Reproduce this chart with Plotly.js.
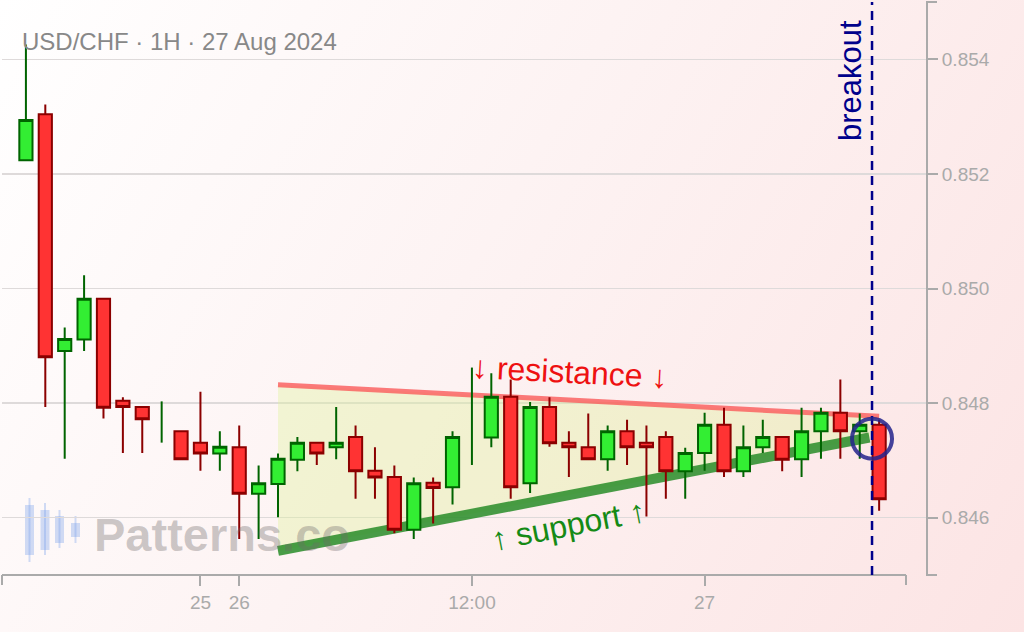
<!DOCTYPE html>
<html>
<head>
<meta charset="utf-8">
<script src="https://cdn.plot.ly/plotly-3.0.1.min.js"></script>
<style>
  html, body { margin: 0; padding: 0; }
  body { background: linear-gradient(120deg, #ffffff 0%, #fdf3f3 45%, #fce4e4 100%); }
  #chart { width: 1024px; height: 632px; }
</style>
</head>
<body>
<div id="chart"></div>
<script>
// hourly candles, Fri 23 Aug 12:00 -> Tue 27 Aug 09:00 (weekend gap)
const times = [
  "2024-08-23 12:00", "2024-08-23 13:00", "2024-08-23 14:00", "2024-08-23 15:00", "2024-08-23 16:00",
  "2024-08-23 17:00", "2024-08-23 18:00", "2024-08-23 19:00", "2024-08-23 20:00",
  "2024-08-25 22:00", "2024-08-25 23:00",
  "2024-08-26 00:00", "2024-08-26 01:00", "2024-08-26 02:00", "2024-08-26 03:00", "2024-08-26 04:00",
  "2024-08-26 05:00", "2024-08-26 06:00", "2024-08-26 07:00", "2024-08-26 08:00", "2024-08-26 09:00",
  "2024-08-26 10:00", "2024-08-26 11:00", "2024-08-26 12:00", "2024-08-26 13:00", "2024-08-26 14:00",
  "2024-08-26 15:00", "2024-08-26 16:00", "2024-08-26 17:00", "2024-08-26 18:00", "2024-08-26 19:00",
  "2024-08-26 20:00", "2024-08-26 21:00", "2024-08-26 22:00", "2024-08-26 23:00",
  "2024-08-27 00:00", "2024-08-27 01:00", "2024-08-27 02:00", "2024-08-27 03:00", "2024-08-27 04:00",
  "2024-08-27 05:00", "2024-08-27 06:00", "2024-08-27 07:00", "2024-08-27 08:00", "2024-08-27 09:00",
];
const opens = [
  0.85224, 0.85304, 0.84891, 0.84911, 0.84982, 0.84804, 0.84793, 0.84760, 0.84751,
  0.84731, 0.84712,
  0.84723, 0.84642, 0.84659, 0.84701, 0.84731, 0.84723, 0.84741, 0.84682, 0.84671, 0.84579,
  0.84661, 0.84653, 0.84700, 0.84740, 0.84811, 0.84660, 0.84793, 0.84731, 0.84723, 0.84702,
  0.84751, 0.84731, 0.84741, 0.84681,
  0.84713, 0.84762, 0.84681, 0.84723, 0.84741, 0.84702, 0.84751, 0.84783, 0.84751, 0.84762,
];
const highs = [
  0.85426, 0.85321, 0.84932, 0.85023, 0.84982, 0.84810, 0.84793, 0.84803, 0.84751,
  0.84820, 0.84751,
  0.84761, 0.84691, 0.84712, 0.84741, 0.84731, 0.84793, 0.84761, 0.84723, 0.84691, 0.84670,
  0.84670, 0.84751, 0.84862, 0.84852, 0.84841, 0.84802, 0.84810, 0.84751, 0.84782, 0.84761,
  0.84771, 0.84761, 0.84751, 0.84722,
  0.84783, 0.84792, 0.84761, 0.84771, 0.84741, 0.84792, 0.84792, 0.84841, 0.84782, 0.84771,
];
const lows = [
  0.85222, 0.84793, 0.84703, 0.84891, 0.84773, 0.84713, 0.84713, 0.84731, 0.84702,
  0.84682, 0.84682,
  0.84563, 0.84563, 0.84601, 0.84681, 0.84692, 0.84702, 0.84633, 0.84633, 0.84573, 0.84563,
  0.84590, 0.84623, 0.84692, 0.84723, 0.84633, 0.84643, 0.84724, 0.84671, 0.84702, 0.84682,
  0.84692, 0.84602, 0.84633, 0.84633,
  0.84682, 0.84671, 0.84671, 0.84713, 0.84681, 0.84671, 0.84703, 0.84703, 0.84703, 0.84612,
];
const closes = [
  0.85294, 0.84880, 0.84912, 0.84982, 0.84792, 0.84793, 0.84772, 0.84760, 0.84702,
  0.84712, 0.84724,
  0.84642, 0.84660, 0.84703, 0.84731, 0.84712, 0.84731, 0.84681, 0.84670, 0.84579, 0.84660,
  0.84652, 0.84741, 0.84700, 0.84811, 0.84653, 0.84793, 0.84730, 0.84723, 0.84702, 0.84751,
  0.84723, 0.84723, 0.84681, 0.84713,
  0.84762, 0.84681, 0.84723, 0.84741, 0.84701, 0.84751, 0.84783, 0.84751, 0.84762, 0.84632,
];

// triangle boundaries
const supportX = ["2024-08-26 02:00", "2024-08-27 08:30"];
const supportY = [0.84542, 0.84740];
const resistanceX = ["2024-08-26 02:00", "2024-08-27 09:00"];
const resistanceY = [0.84832, 0.84777];

const breakoutTime = "2024-08-27 08:38";
const breakoutPrice = 0.84738;

const tickTimes = ["2024-08-25 22:00", "2024-08-26 00:00", "2024-08-26 12:00", "2024-08-27 00:00"];
const tickLabels = ["25", "26", "12:00", "27"];
const priceTicks = [0.846, 0.848, 0.850, 0.852, 0.854];

const FONT = "Liberation Sans, Arial, sans-serif";
const AXIS = "#aaaaaa";

// plot area in pixels: x 2..926, y 2..575
const px = (p) => (p - 2) / 924;
const py = (p) => (575 - p) / 573;

// split dojis (open == close) off so they draw as plain wicks
const body = [], doji = [];
times.forEach((t, i) => (opens[i] === closes[i] ? doji : body).push(i));
const pick = (arr, idx) => idx.map((i) => arr[i]);

const candles = {
  type: "candlestick",
  x: pick(times, body),
  open: pick(opens, body),
  high: pick(highs, body),
  low: pick(lows, body),
  close: pick(closes, body),
  increasing: { line: { color: "#006400", width: 2 }, fillcolor: "#33ee33" },
  decreasing: { line: { color: "#8b0000", width: 2 }, fillcolor: "#ff3333" },
  whiskerwidth: 0,
  showlegend: false,
};

const dojis = {
  type: "ohlc",
  x: pick(times, doji),
  open: pick(opens, doji),
  high: pick(highs, doji),
  low: pick(lows, doji),
  close: pick(closes, doji),
  tickwidth: 0,
  increasing: { line: { color: "#006400", width: 2 } },
  decreasing: { line: { color: "#006400", width: 2 } },
  showlegend: false,
};

const d = (s) => s.replace(" ", "_");
const triangleShapes = [
  {
    type: "path", xref: "x", yref: "y", layer: "between",
    path: `M ${d(supportX[0])},${supportY[0]} L ${d(supportX[1])},${supportY[1]} ` +
          `L ${d(resistanceX[1])},${resistanceY[1]} L ${d(resistanceX[0])},${resistanceY[0]} Z`,
    fillcolor: "rgba(224,243,155,0.38)",
    line: { width: 0 },
  },
  {
    type: "line", xref: "x", yref: "y", layer: "between",
    x0: supportX[0], x1: supportX[1], y0: supportY[0], y1: supportY[1],
    line: { color: "rgba(40,140,40,0.85)", width: 10 },
  },
  {
    type: "line", xref: "x", yref: "y", layer: "between",
    x0: resistanceX[0], x1: resistanceX[1], y0: resistanceY[0], y1: resistanceY[1],
    line: { color: "rgba(250,90,90,0.8)", width: 5 },
  },
];

// watermark icon: four faint candles
const ICON = [
  [29.5, 505, 555, 498, 562],
  [45, 510, 550, 503, 555],
  [59.5, 516, 543, 510, 548],
  [75.5, 523, 537, 516, 543],
];
const iconShapes = [];
for (const [cx, bt, bb, wt, wb] of ICON) {
  iconShapes.push({
    type: "line", xref: "paper", yref: "paper", layer: "below",
    x0: px(cx), x1: px(cx), y0: py(wt), y1: py(wb),
    line: { color: "rgba(120,160,235,0.35)", width: 2 },
  });
  iconShapes.push({
    type: "rect", xref: "paper", yref: "paper", layer: "below",
    x0: px(cx - 4.5), x1: px(cx + 4.5), y0: py(bt), y1: py(bb),
    fillcolor: "rgba(120,160,235,0.35)", line: { width: 0 },
  });
}

const axisShapes = [
  // x axis line stops short of the y axis, with end caps
  { type: "line", xref: "paper", yref: "paper", x0: 0, x1: px(906), y0: 0, y1: 0, line: { color: AXIS, width: 2 } },
  { type: "line", xref: "paper", yref: "paper", x0: 0, x1: 0, y0: 0, y1: -10 / 573, line: { color: AXIS, width: 2 } },
  { type: "line", xref: "paper", yref: "paper", x0: px(906), x1: px(906), y0: 0, y1: -10 / 573, line: { color: AXIS, width: 2 } },
  { type: "line", xref: "paper", yref: "paper", x0: 1, x1: 1 + 11 / 924, y0: 1, y1: 1, line: { color: AXIS, width: 2 } },
  { type: "line", xref: "paper", yref: "paper", x0: 1, x1: 1 + 11 / 924, y0: 0, y1: 0, line: { color: AXIS, width: 2 } },
];

const markShapes = [
  {
    type: "line", xref: "x", yref: "paper",
    x0: breakoutTime, x1: breakoutTime, y0: 0, y1: 1,
    line: { color: "#00008b", width: 2.5, dash: "9px,6px" },
  },
  {
    type: "circle", xref: "x", yref: "y",
    xsizemode: "pixel", ysizemode: "pixel",
    xanchor: breakoutTime, yanchor: breakoutPrice,
    x0: -20, x1: 20, y0: -20, y1: 20,
    line: { color: "rgba(35,35,140,0.85)", width: 4 },
  },
];

const layout = {
  width: 1024,
  height: 632,
  margin: { l: 2, r: 98, t: 2, b: 57 },
  paper_bgcolor: "rgba(0,0,0,0)",
  plot_bgcolor: "rgba(0,0,0,0)",
  font: { family: FONT, size: 19, color: AXIS },
  showlegend: false,
  boxgap: 0.32,
  boxgroupgap: 0,
  xaxis: {
    type: "date",
    range: ["2024-08-23 10:46", "2024-08-27 11:25"],
    rangebreaks: [{ bounds: ["2024-08-23 21:00", "2024-08-25 22:00"] }],
    rangeslider: { visible: false },
    showgrid: false,
    zeroline: false,
    showline: false,
    ticks: "outside",
    ticklen: 10,
    tickwidth: 2,
    tickcolor: AXIS,
    tickvals: tickTimes,
    ticktext: tickLabels,
    tickfont: { family: FONT, size: 19, color: AXIS },
  },
  yaxis: {
    side: "right",
    range: [0.845, 0.855],
    tickvals: priceTicks,
    tickformat: ".3f",
    showgrid: true,
    gridcolor: "#dedada",
    gridwidth: 1.5,
    zeroline: false,
    showline: true,
    linecolor: AXIS,
    linewidth: 2,
    ticks: "outside",
    ticklen: 10,
    tickwidth: 2,
    tickcolor: AXIS,
    tickfont: { family: FONT, size: 19, color: AXIS },
  },
  shapes: [...iconShapes, ...triangleShapes, ...axisShapes, ...markShapes],
  annotations: [
    {
      text: "USD/CHF · 1H · 27 Aug 2024",
      xref: "paper", yref: "paper", x: px(20), y: py(41),
      xanchor: "left", yanchor: "middle", showarrow: false,
      font: { family: FONT, size: 24, color: "#888888" },
    },
    {
      text: "<b>Patterns.co</b>",
      xref: "paper", yref: "paper", x: px(222), y: py(534),
      xanchor: "center", yanchor: "middle", showarrow: false,
      font: { family: FONT, size: 47, color: "rgba(110,105,105,0.35)" },
    },
    {
      text: "↓ resistance ↓",
      xref: "x", yref: "y", x: "2024-08-26 17:05", y: 0.84854,
      textangle: 3, showarrow: false,
      font: { family: FONT, size: 32, color: "#ee1111" },
    },
    {
      text: "↑ support ↑",
      xref: "x", yref: "y", x: "2024-08-26 17:00", y: 0.84588,
      textangle: -11, showarrow: false,
      font: { family: FONT, size: 32, color: "#158a15" },
    },
    {
      text: "breakout",
      xref: "x", yref: "paper", x: breakoutTime, y: 1,
      xanchor: "right", yanchor: "top", xshift: -2, yshift: -16,
      textangle: -90, showarrow: false,
      font: { family: FONT, size: 31, color: "#00008b" },
    },
  ],
};

Plotly.newPlot("chart", [candles, dojis], layout, {
  displayModeBar: false,
  staticPlot: true,
});
</script>
</body>
</html>
